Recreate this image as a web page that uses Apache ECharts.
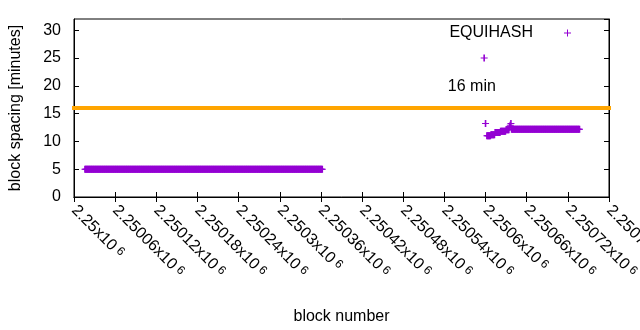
<!DOCTYPE html>
<html>
<head>
<meta charset="utf-8">
<script src="https://cdn.jsdelivr.net/npm/echarts@6/dist/echarts.min.js"></script>
<style>html,body{margin:0;padding:0;background:#fff}#c{width:640px;height:330px}</style>
</head>
<body>
<div id="c"></div>
<script>
// ---- data ----
const seriesName = 'EQUIHASH';
const refLabel = '16 min';
const refValue = 16;
const xTickStart = 2250000;
const xTickEnd = 2250780;
const xTickStep = 60;
const yMin = 0;
const yMax = 32;
const yTickStep = 5;

// first run of consecutive blocks, block spacing in minutes
const seg1StartBlock = 2250016;
const seg1Spacing = [
5,5,5,5,5,5,5,5,5,5,5,5,5,5,5,5,5,5,5,5,5,5,5,5,5,5,5,5,5,5,5,5,5,5,5,5,5,5,5,5,5,5,5,5,5,5,5,5,5,5,
5,5,5,5,5,5,5,5,5,5,5,5,5,5,5,5,5,5,5,5,5,5,5,5,5,5,5,5,5,5,5,5,5,5,5,5,5,5,5,5,5,5,5,5,5,5,5,5,5,5,
5,5,5,5,5,5,5,5,5,5,5,5,5,5,5,5,5,5,5,5,5,5,5,5,5,5,5,5,5,5,5,5,5,5,5,5,5,5,5,5,5,5,5,5,5,5,5,5,5,5,
5,5,5,5,5,5,5,5,5,5,5,5,5,5,5,5,5,5,5,5,5,5,5,5,5,5,5,5,5,5,5,5,5,5,5,5,5,5,5,5,5,5,5,5,5,5,5,5,5,5,
5,5,5,5,5,5,5,5,5,5,5,5,5,5,5,5,5,5,5,5,5,5,5,5,5,5,5,5,5,5,5,5,5,5,5,5,5,5,5,5,5,5,5,5,5,5,5,5,5,5,
5,5,5,5,5,5,5,5,5,5,5,5,5,5,5,5,5,5,5,5,5,5,5,5,5,5,5,5,5,5,5,5,5,5,5,5,5,5,5,5,5,5,5,5,5,5,5,5,5,5,
5,5,5,5,5,5,5,5,5,5,5,5,5,5,5,5,5,5,5,5,5,5,5,5,5,5,5,5,5,5,5,5,5,5,5,5,5,5,5,5,5,5,5,5,5,5,5
];

// isolated blocks
const outlierBlocks = [2250598, 2250600];
const outlierSpacing = [25, 13.2];

// second run of consecutive blocks
const seg2StartBlock = 2250602;
const seg2Spacing = [
11.0,11.0,11.0,11.0,11.0,11.0,
11.2,11.2,11.2,11.2,11.2,11.2,
11.6,11.6,11.6,11.6,11.6,11.6,11.6,11.6,
11.8,11.8,11.8,11.8,11.8,11.8,11.8,11.8,
12.1,12.1,12.1,12.1,12.1,
12.6,12.9,13.2,
12.2,12.2,12.2,12.2,12.2,12.2,12.2,12.2,12.2,12.2,12.2,12.2,12.2,12.2,12.2,12.2,12.2,12.2,12.2,12.2,
12.2,12.2,12.2,12.2,12.2,12.2,12.2,12.2,12.2,12.2,12.2,12.2,12.2,12.2,12.2,12.2,12.2,12.2,12.2,12.2,
12.2,12.2,12.2,12.2,12.2,12.2,12.2,12.2,12.2,12.2,12.2,12.2,12.2,12.2,12.2,12.2,12.2,12.2,12.2,12.2,
12.2,12.2,12.2,12.2,12.2,12.2,12.2,12.2,12.2,12.2,12.2,12.2,12.2,12.2,12.2,12.2,12.2,12.2,12.2,12.2,
12.2,12.2,12.2,12.2,12.2,12.2,12.2,12.2,12.2,12.2,12.2,12.2,12.2,12.2,12.2,12.2,12.2,12.2,12.2,12.2
];

// annotation position (data coordinates)
const refLabelBlock = 2250580;
const refLabelValue = 19.8;

// ---- build ----
const points = [];
seg1Spacing.forEach((v, i) => points.push([seg1StartBlock + i, v]));
outlierBlocks.forEach((b, i) => points.push([b, outlierSpacing[i]]));
seg2Spacing.forEach((v, i) => points.push([seg2StartBlock + i, v]));

const FONT = '"Liberation Sans", Arial, sans-serif';
const FS = 16;
const plus = 'path://M2.7,0L4.3,0L4.3,3L7,3L7,4L4.3,4L4.3,7L2.7,7L2.7,4L0,4L0,3L2.7,3Z';
const legendPlus = 'path://M3,0L4,0L4,3L7,3L7,4L4,4L4,7L3,7L3,4L0,4L0,3L3,3Z';
const purple = '#9400D3';

function mant(v) {
  return parseFloat((v / 1e6).toFixed(5)).toString();
}

const tickCommon = { show: true, inside: true, length: 5, lineStyle: { color: '#000', width: 1 } };

const chart = echarts.init(document.getElementById('c'), null, { renderer: 'canvas' });
chart.setOption({
  animation: false,
  backgroundColor: '#fff',
  textStyle: { fontFamily: FONT },
  grid: { left: 74, right: 31, top: 19, bottom: 133, show: true, borderColor: '#000', borderWidth: 1, containLabel: false, outerBoundsMode: 'none' },
  legend: {
    show: true,
    right: 64,
    top: 20,
    align: 'right',
    icon: legendPlus,
    itemWidth: 7,
    itemHeight: 7,
    textStyle: { fontFamily: FONT, fontSize: FS, color: '#000', padding: [0, 26, 0, 0] },
    data: [seriesName]
  },
  xAxis: [{
    type: 'value',
    min: xTickStart, max: xTickEnd, interval: xTickStep,
    name: 'block number', nameLocation: 'middle', nameGap: 112,
    nameTextStyle: { fontFamily: FONT, fontSize: FS, color: '#000' },
    axisLine: { show: true, lineStyle: { color: '#000', width: 1 } },
    axisTick: tickCommon,
    splitLine: { show: false },
    axisLabel: {
      rotate: -45, margin: 11, color: '#000',
      formatter: v => '{m|' + mant(v) + 'x10}{e| 6}',
      rich: {
        m: { fontFamily: FONT, fontSize: FS, color: '#000' },
        e: { fontFamily: FONT, fontSize: 12, color: '#000', verticalAlign: 'top' }
      }
    }
  }, {
    type: 'value', position: 'top',
    min: xTickStart, max: xTickEnd, interval: xTickStep,
    axisLine: { show: true, lineStyle: { color: '#000', width: 1 } },
    axisTick: tickCommon,
    axisLabel: { show: false },
    splitLine: { show: false }
  }],
  yAxis: [{
    type: 'value',
    min: yMin, max: yMax, interval: yTickStep,
    name: 'block spacing [minutes]', nameLocation: 'middle', nameGap: 50, nameRotate: 90,
    nameTextStyle: { fontFamily: FONT, fontSize: FS, color: '#000' },
    axisLine: { show: true, lineStyle: { color: '#000', width: 1 } },
    axisTick: tickCommon,
    splitLine: { show: false },
    axisLabel: { margin: 13, color: '#000', fontFamily: FONT, fontSize: FS, showMaxLabel: false }
  }, {
    type: 'value', position: 'right',
    min: yMin, max: yMax, interval: yTickStep,
    axisLine: { show: true, lineStyle: { color: '#000', width: 1 } },
    axisTick: tickCommon,
    axisLabel: { show: false },
    splitLine: { show: false }
  }],
  series: [{
    name: seriesName,
    type: 'scatter',
    xAxisIndex: 0, yAxisIndex: 0,
    symbol: plus,
    symbolSize: 7,
    itemStyle: { color: purple, opacity: 1 },
    data: points,
    z: 3
  }, {
    name: refLabel,
    type: 'line',
    xAxisIndex: 0, yAxisIndex: 0,
    showSymbol: false,
    symbol: 'none',
    clip: false,
    lineStyle: { color: '#FFA500', width: 4, cap: 'square' },
    data: [[xTickStart, refValue], [xTickEnd, refValue]],
    markPoint: {
      symbol: 'circle', symbolSize: 0,
      label: { show: true, position: 'inside', color: '#000', fontFamily: FONT, fontSize: FS, formatter: refLabel },
      data: [{ coord: [refLabelBlock, refLabelValue] }]
    },
    z: 2
  }]
});
</script>
</body>
</html>
